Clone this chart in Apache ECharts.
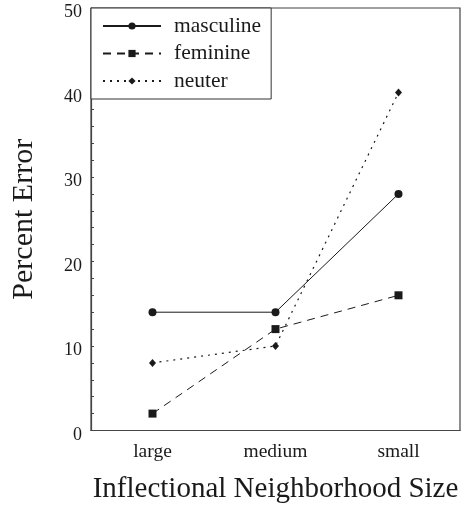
<!DOCTYPE html>
<html><head><meta charset="utf-8">
<script src="https://cdn.jsdelivr.net/npm/echarts@6/dist/echarts.min.js"></script>
<style>html,body{margin:0;padding:0;background:#fff}#c{width:461px;height:506px}</style>
</head><body><div id="c"></div>
<script>
var categories = ['large', 'medium', 'small'];
var masculine = [14, 14, 28];
var feminine = [2, 12, 16];
var neuter = [8, 10, 40];
var yTickLabels = [0, 10, 20, 30, 40, 50];

var serif = '"Liberation Serif", "DejaVu Serif", serif';
var ink = '#1a1a1a';
var chart = echarts.init(document.getElementById('c'));
chart.setOption({
  animation: false,
  backgroundColor: '#fff',
  grid: { left: 91, right: 1, top: 8, bottom: 75.5, outerBoundsMode: 'none', containLabel: false,
          show: true, borderColor: '#444', borderWidth: 1.2, backgroundColor: 'transparent' },
  legend: {
    left: 91, top: 8, orient: 'vertical',
    borderColor: '#333', borderWidth: 1, backgroundColor: '#fff',
    padding: [7, 10, 7, 11],
    itemWidth: 58, itemHeight: 9, itemGap: 5.5,
    textStyle: { fontFamily: serif, fontSize: 21.5, color: ink, padding: [0, 0, 0, 8] },
    data: ['masculine', 'feminine', 'neuter']
  },
  xAxis: {
    type: 'category', data: categories, boundaryGap: true,
    name: 'Inflectional Neighborhood Size', nameLocation: 'middle', nameGap: 44.5,
    nameTextStyle: { fontFamily: serif, fontSize: 29, color: ink },
    axisLine: { lineStyle: { color: '#444', width: 1.2 } },
    axisTick: { alignWithLabel: true, inside: true, length: 4, lineStyle: { color: '#444' } },
    axisLabel: { fontFamily: serif, fontSize: 19.5, color: ink, margin: 11 }
  },
  yAxis: {
    type: 'value', min: 0, max: 50, interval: 2,
    name: 'Percent Error', nameLocation: 'middle', nameGap: 52, nameRotate: 90,
    nameTextStyle: { fontFamily: serif, fontSize: 30, color: ink },
    splitLine: { show: false },
    axisLine: { show: true, lineStyle: { color: '#444', width: 1.2 } },
    axisTick: { show: true, inside: true, length: 3, lineStyle: { color: '#444' } },
    axisLabel: {
      fontFamily: serif, fontSize: 18, color: ink, margin: 9, verticalAlign: 'top', lineHeight: 9,
      formatter: function (v) { return yTickLabels.indexOf(v) >= 0 ? String(v) : ''; }
    }
  },
  series: [
    { name: 'masculine', type: 'line', data: masculine, symbol: 'circle', symbolSize: 8,
      lineStyle: { color: ink, width: 1, type: 'solid' }, itemStyle: { color: ink } },
    { name: 'feminine', type: 'line', data: feminine, symbol: 'rect', symbolSize: 8,
      lineStyle: { color: ink, width: 1, type: [8, 6] }, itemStyle: { color: ink } },
    { name: 'neuter', type: 'line', data: neuter, symbol: 'diamond', symbolSize: [7, 8],
      lineStyle: { color: ink, width: 1.2, type: [2, 5] }, itemStyle: { color: ink } }
  ]
});
</script></body></html>
